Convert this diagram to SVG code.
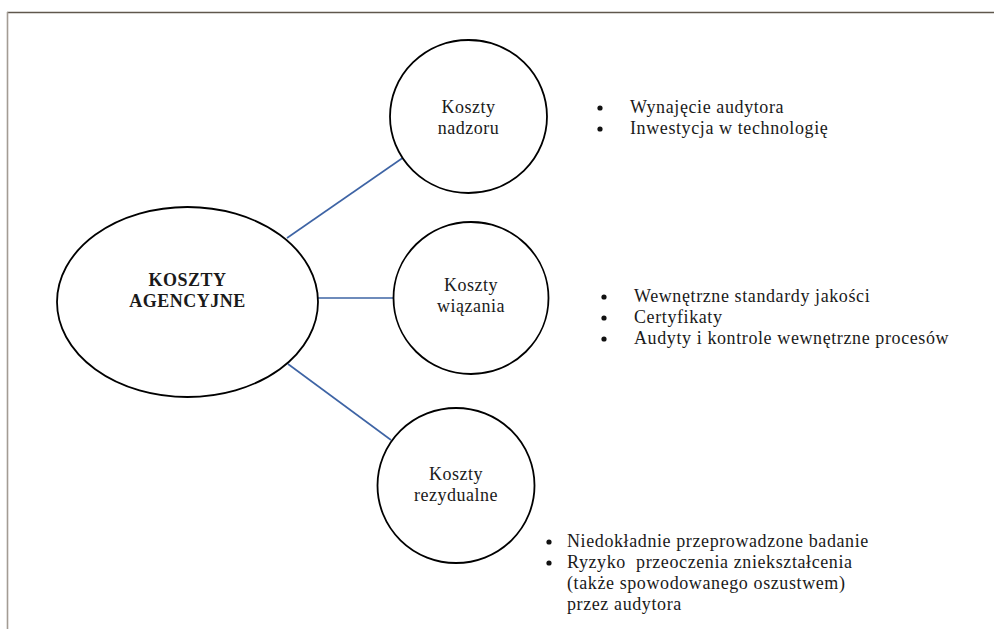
<svg xmlns="http://www.w3.org/2000/svg" width="994" height="629" viewBox="0 0 994 629">
<style>
.node{fill:#fff;stroke:#000;stroke-width:1.8}
.lbl{font-family:"Liberation Serif","Times New Roman",serif;font-size:18px;letter-spacing:0.5px;fill:#1a1a1a;text-anchor:middle}
.bold{font-weight:bold;letter-spacing:0.5px}
.item{font-family:"Liberation Serif","Times New Roman",serif;font-size:18px;letter-spacing:0.6px;fill:#1a1a1a}
.bul{fill:#111}
.conn line{stroke:#3e64a5;stroke-width:1.6}
</style>
<rect width="994" height="629" fill="#fff"/>
<line x1="7" y1="12.5" x2="994" y2="12.5" stroke="#5f574d" stroke-width="1.3"/>
<line x1="7.5" y1="12" x2="7.5" y2="629" stroke="#a39c94" stroke-width="1.6"/>
<g id="connectors" class="conn">
<line x1="287" y1="238" x2="404" y2="157"/>
<line x1="318" y1="298" x2="393" y2="298"/>
<line x1="288" y1="364" x2="391" y2="440"/>
</g>
<g id="agencyjne">
<ellipse class="node" cx="187.5" cy="302" rx="130.5" ry="95"/>
<text class="lbl bold" x="187.5" y="286">KOSZTY</text>
<text class="lbl bold" x="187.5" y="307">AGENCYJNE</text>
</g>
<g id="nadzoru">
<ellipse class="node" cx="468.5" cy="116.5" rx="78.5" ry="76.5"/>
<text class="lbl" x="468.5" y="113">Koszty</text>
<text class="lbl" x="468.5" y="134">nadzoru</text>
</g>
<g id="wiazania">
<ellipse class="node" cx="471" cy="298" rx="77.5" ry="76"/>
<text class="lbl" x="471" y="291">Koszty</text>
<text class="lbl" x="471" y="312">wiązania</text>
</g>
<g id="rezydualne">
<ellipse class="node" cx="456" cy="485.5" rx="78.5" ry="77.5"/>
<text class="lbl" x="456" y="480">Koszty</text>
<text class="lbl" x="456" y="501">rezydualne</text>
</g>
<g id="list-nadzoru">
<circle class="bul" cx="600" cy="108" r="2.6"/>
<circle class="bul" cx="600" cy="129" r="2.6"/>
<text class="item" x="630" y="113">Wynajęcie audytora</text>
<text class="item" x="630" y="134">Inwestycja w technologię</text>
</g>
<g id="list-wiazania">
<circle class="bul" cx="604" cy="297" r="2.6"/>
<circle class="bul" cx="604" cy="318" r="2.6"/>
<circle class="bul" cx="604" cy="339" r="2.6"/>
<text class="item" x="634" y="302">Wewnętrzne standardy jakości</text>
<text class="item" x="634" y="323">Certyfikaty</text>
<text class="item" x="634" y="344">Audyty i kontrole wewnętrzne procesów</text>
</g>
<g id="list-rezydualne">
<circle class="bul" cx="549" cy="542" r="2.6"/>
<circle class="bul" cx="549" cy="563" r="2.6"/>
<text class="item" x="567" y="547">Niedokładnie przeprowadzone badanie</text>
<text class="item" x="567" y="568" xml:space="preserve">Ryzyko  przeoczenia zniekształcenia</text>
<text class="item" x="567" y="589">(także spowodowanego oszustwem)</text>
<text class="item" x="567" y="610">przez audytora</text>
</g>
</svg>
